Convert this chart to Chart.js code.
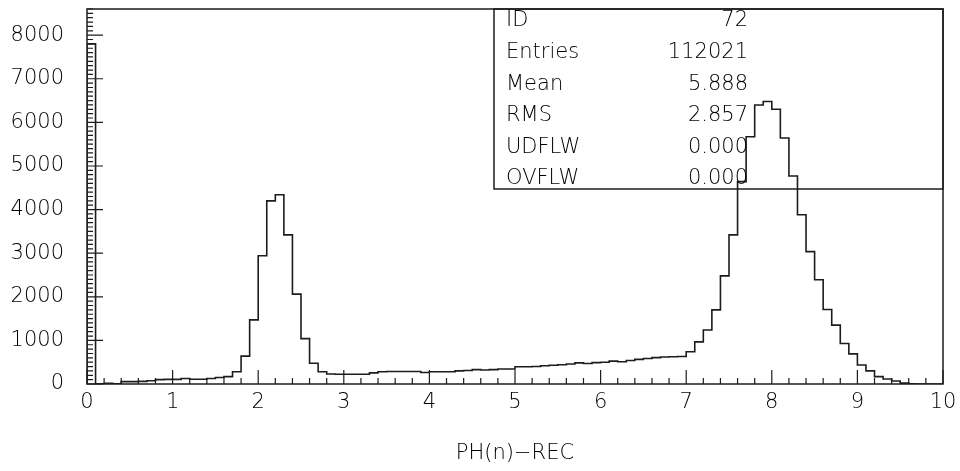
<!DOCTYPE html>
<html>
<head>
<meta charset="utf-8">
<script src="https://cdn.jsdelivr.net/npm/chart.js@4.4.1/dist/chart.umd.min.js"></script>
<style>
  html, body { margin: 0; padding: 0; background: #ffffff; }
  #wrap { width: 960px; height: 471px; }
</style>
</head>
<body>
<div id="wrap"><canvas id="c" width="960" height="471"></canvas></div>
<script>
// ---- data ----
const xMin = 0;
const xMax = 10;
const binWidth = 0.1;
const counts = [
  7800, 5, 15, 5, 55, 55, 60, 75, 100, 105,
  105, 125, 110, 110, 125, 150, 170, 280, 640, 1470,
  2940, 4200, 4340, 3420, 2060, 1040, 475, 280, 230, 225,
  225, 225, 225, 255, 280, 285, 285, 285, 285, 265,
  280, 280, 280, 300, 310, 330, 320, 330, 345, 345,
  395, 395, 400, 420, 430, 440, 460, 485, 470, 490,
  500, 525, 510, 540, 565, 585, 605, 620, 625, 630,
  740, 965, 1240, 1700, 2480, 3420, 4640, 5670, 6400, 6480,
  6300, 5640, 4770, 3880, 3035, 2390, 1710, 1350, 930, 690,
  436, 300, 170, 115, 70, 20, 5, 0, 0, 0
];
const xTickLabels = ['0','1','2','3','4','5','6','7','8','9','10'];
const yTickLabels = ['0','1000','2000','3000','4000','5000','6000','7000','8000'];
const yMax = 8600;
const xTitle = 'PH(n)\u2212REC';
const statNames  = ['ID', 'Entries', 'Mean', 'RMS', 'UDFLW', 'OVFLW'];
const statValues = ['72', '112021', '5.888', '2.857', '0.000', '0.000'];

// ---- build step points from bin contents ----
const pts = [{x: xMin, y: 0}];
counts.forEach((v, i) => pts.push({x: xMin + i * binWidth, y: v}));
pts.push({x: xMax, y: 0});

const INK = '#1c1c1c';
const TXT = '#000000';
const FONT = "'DejaVu Sans', sans-serif";
const FSIZE = 21;

const framePlugin = {
  id: 'frame',
  afterDatasetsDraw(chart) {
    const {ctx, chartArea: a, scales} = chart;
    const xs = scales.x, ys = scales.y;
    ctx.save();
    ctx.strokeStyle = INK;
    ctx.lineWidth = 1.5;
    ctx.strokeRect(a.left, a.top, a.right - a.left, a.bottom - a.top);
    ctx.lineWidth = 1.2;
    ctx.beginPath();
    for (let k = 0; k <= 50; k++) {
      const px = xs.getPixelForValue(k * 0.2);
      const len = (k % 5 === 0) ? 14 : 6;
      ctx.moveTo(px, a.bottom);
      ctx.lineTo(px, a.bottom - len);
    }
    for (let k = 0; k <= 86; k++) {
      const py = ys.getPixelForValue(k * 100);
      const len = (k % 10 === 0) ? 16 : 6;
      ctx.moveTo(a.left, py);
      ctx.lineTo(a.left + len, py);
    }
    ctx.stroke();

    // stats box
    const boxLeft = 494, boxTop = a.top, boxRight = a.right, boxBottom = 189;
    ctx.lineWidth = 1.5;
    ctx.strokeRect(boxLeft, boxTop, boxRight - boxLeft, boxBottom - boxTop);
    ctx.fillStyle = TXT;
    ctx.font = '200 ' + FSIZE + 'px ' + FONT;
    ctx.textBaseline = 'middle';
    const rowY0 = 21, rowStep = 31.6;
    statNames.forEach((n, i) => {
      const y = rowY0 + i * rowStep;
      ctx.textAlign = 'left';
      ctx.fillText(n, 506, y);
      ctx.textAlign = 'right';
      ctx.fillText(statValues[i], 748, y);
    });
    ctx.restore();
  }
};

new Chart(document.getElementById('c'), {
  type: 'line',
  data: {
    datasets: [{
      data: pts,
      stepped: 'before',
      borderColor: INK,
      borderWidth: 1.6,
      pointRadius: 0,
      fill: false,
      tension: 0
    }]
  },
  options: {
    responsive: false,
    animation: false,
    events: [],
    layout: { padding: { top: 9, right: 17, left: 0, bottom: 0 } },
    plugins: { legend: { display: false }, tooltip: { enabled: false } },
    scales: {
      x: {
        type: 'linear',
        min: xMin, max: xMax,
        grid: { display: false, drawTicks: false },
        border: { display: false },
        afterBuildTicks(s) { s.ticks = xTickLabels.map(t => ({value: Number(t)})); },
        afterFit(s) { s.height = 87; s.paddingLeft = 0; s.paddingRight = 0; },
        ticks: {
          color: TXT,
          font: { family: FONT, size: FSIZE, weight: '200' },
          padding: 6,
          maxRotation: 0,
          autoSkip: false,
          callback: (v) => xTickLabels[xTickLabels.indexOf(String(v))] ?? ''
        },
        title: {
          display: true,
          text: xTitle,
          color: TXT,
          font: { family: FONT, size: FSIZE, weight: '200' },
          padding: { top: 0, bottom: 5 }
        }
      },
      y: {
        type: 'linear',
        min: 0, max: yMax,
        grid: { display: false, drawTicks: false },
        border: { display: false },
        afterBuildTicks(s) { s.ticks = yTickLabels.map(t => ({value: Number(t)})); },
        afterFit(s) { s.width = 87; s.paddingTop = 0; s.paddingBottom = 0; },
        ticks: {
          color: TXT,
          font: { family: FONT, size: FSIZE, weight: '200' },
          padding: 23,
          autoSkip: false,
          callback: (v) => yTickLabels[yTickLabels.indexOf(String(v))] ?? ''
        }
      }
    }
  },
  plugins: [framePlugin]
});
</script>
</body>
</html>
